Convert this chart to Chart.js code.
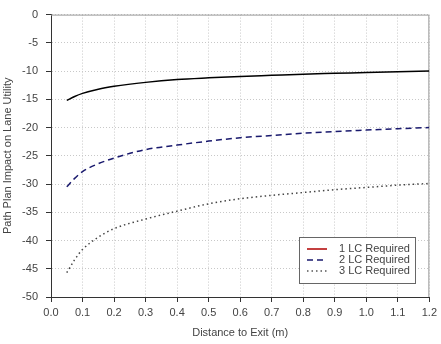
<!DOCTYPE html>
<html><head><meta charset="utf-8">
<script src="https://cdn.jsdelivr.net/npm/chart.js@4"></script>
<style>html,body{margin:0;padding:0;background:#fff}#wrap{width:441px;height:344px}</style>
</head><body><div id="wrap"><canvas id="c" width="441" height="344"></canvas></div>
<script>
const distances = [0.05, 0.075, 0.1, 0.15, 0.2, 0.3, 0.4, 0.5, 0.6, 0.7, 0.8, 0.9, 1.0, 1.1, 1.2];
const lc1 = [-15.2, -14.5, -13.95, -13.2, -12.7, -12.0, -11.5, -11.2, -10.95, -10.75, -10.55, -10.4, -10.25, -10.1, -10.0];
const lc2 = [-30.5, -29.0, -27.8, -26.4, -25.4, -23.9, -23.1, -22.4, -21.8, -21.4, -21.0, -20.7, -20.45, -20.2, -20.0];
const lc3 = [-45.7, -43.4, -41.6, -39.4, -37.9, -36.2, -34.8, -33.5, -32.6, -32.0, -31.5, -31.0, -30.6, -30.2, -29.9];
const seriesNames = ['1 LC Required', '2 LC Required', '3 LC Required'];
const xTitle = 'Distance to Exit (m)';
const yTitle = 'Path Plan Impact on Lane Utility';

const FONT = 'Liberation Sans, Arial, sans-serif';
const pts = arr => arr.map((v, i) => ({x: distances[i], y: v}));

const legendPlugin = {
  id: 'boxLegend',
  afterDatasetsDraw(chart) {
    const ctx = chart.ctx;
    const x0 = 299, y0 = 237, w = 116, h = 46;
    ctx.save();
    ctx.fillStyle = '#fff';
    ctx.fillRect(x0, y0, w, h);
    ctx.strokeStyle = '#666';
    ctx.lineWidth = 1;
    ctx.strokeRect(x0 + 0.5, y0 + 0.5, w, h);
    const sampleColors = ['#b00000', '#1a1a6e', '#555'];
    const dashes = [[], [6, 4], [1.5, 3]];
    ctx.font = '11px ' + FONT;
    ctx.textBaseline = 'middle';
    seriesNames.forEach((name, i) => {
      const y = y0 + 12 + i * 11;
      ctx.strokeStyle = sampleColors[i];
      ctx.lineWidth = 1.5;
      ctx.setLineDash(dashes[i]);
      ctx.beginPath(); ctx.moveTo(307, y); ctx.lineTo(327, y); ctx.stroke();
      ctx.setLineDash([]);
      ctx.fillStyle = '#444';
      ctx.fillText(name, 339, y);
    });
    ctx.restore();
  }
};

const framePlugin = {
  id: 'frame',
  beforeDatasetsDraw(chart) {
    const a = chart.chartArea, ctx = chart.ctx;
    ctx.save();
    ctx.strokeStyle = '#999';
    ctx.lineWidth = 1;
    ctx.beginPath();
    ctx.moveTo(a.left, a.top + 0.5); ctx.lineTo(a.right - 0.5, a.top + 0.5); ctx.lineTo(a.right - 0.5, a.bottom);
    ctx.stroke();
    ctx.restore();
  }
};

new Chart(document.getElementById('c'), {
  type: 'line',
  data: {
    datasets: [
      {label: seriesNames[0], data: pts(lc1), borderColor: '#000', borderWidth: 1.5, pointRadius: 0, cubicInterpolationMode: 'monotone', fill: false},
      {label: seriesNames[1], data: pts(lc2), borderColor: '#1a1a6e', borderWidth: 1.5, borderDash: [6, 4], pointRadius: 0, cubicInterpolationMode: 'monotone', fill: false},
      {label: seriesNames[2], data: pts(lc3), borderColor: '#444', borderWidth: 1.5, borderDash: [1.5, 3], pointRadius: 0, cubicInterpolationMode: 'monotone', fill: false}
    ]
  },
  options: {
    responsive: false, animation: false, devicePixelRatio: 1,
    layout: {padding: {top: 13, right: 9, left: 0, bottom: 0}},
    plugins: {legend: {display: false}, tooltip: {enabled: false}},
    scales: {
      x: {
        type: 'linear', min: 0, max: 1.2,
        afterFit: s => { s.height = 47; },
        ticks: {stepSize: 0.1, color: '#444', font: {family: FONT, size: 11}, padding: 4, callback: v => Number(v).toFixed(1)},
        grid: {color: '#c8c8c8', tickLength: 5, tickColor: '#333', tickBorderDash: []},
        border: {color: '#333', width: 1, dash: [1, 2]},
        title: {display: true, text: xTitle, color: '#444', font: {family: FONT, size: 11}, padding: {top: 6}}
      },
      y: {
        min: -50, max: 0,
        afterFit: s => { s.width = 51; },
        ticks: {stepSize: 5, color: '#444', font: {family: FONT, size: 11}, padding: 8},
        grid: {color: '#c8c8c8', tickLength: 5, tickColor: '#333', tickBorderDash: []},
        border: {color: '#333', width: 1, dash: [1, 2]},
        title: {display: true, text: yTitle, color: '#444', font: {family: FONT, size: 11}, padding: {top: 1, bottom: 0}}
      }
    }
  },
  plugins: [framePlugin, legendPlugin]
});
</script></body></html>
